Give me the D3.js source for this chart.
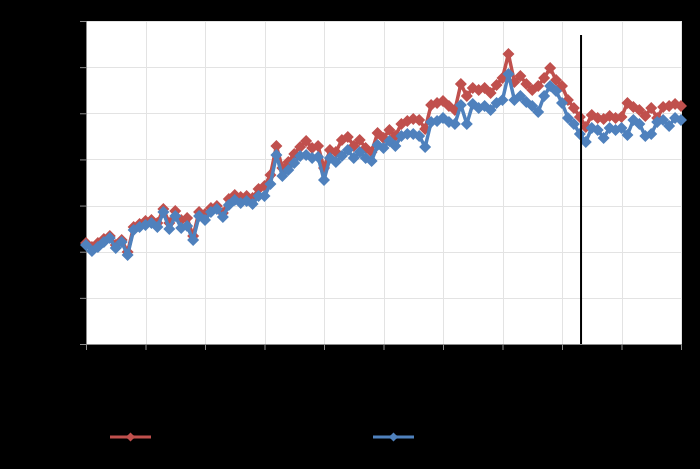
<!DOCTYPE html>
<html>
<head>
<meta charset="utf-8">
<script src="https://cdn.jsdelivr.net/npm/d3@7"></script>
<style>
  html, body { margin: 0; padding: 0; background: #000; }
  svg { display: block; }
</style>
</head>
<body>
<div class="chart"></div>
<script>
// Data, one value per period
var seriesRed = [43.8, 42.0, 43.8, 45.5, 46.8, 42.9, 45.1, 39.9, 50.7, 52.0,
  53.3, 53.7, 52.4, 58.5, 52.4, 57.6, 53.7, 54.6, 46.8, 57.2,
  56.3, 58.9, 59.8, 56.8, 62.8, 64.6, 63.7, 64.1, 63.3, 67.2,
  68.5, 73.3, 85.8, 76.3, 78.9, 82.4, 85.4, 88.0, 85.0, 85.8,
  76.3, 84.1, 83.2, 88.4, 89.7, 85.8, 88.4, 85.0, 83.2, 91.5,
  89.3, 92.8, 90.2, 95.4, 96.7, 97.5, 97.1, 93.2, 103.6, 104.5,
  105.3, 103.2, 101.4, 112.7, 107.5, 111.0, 110.1, 111.0, 108.8, 112.3,
  115.3, 125.7, 113.6, 116.2, 112.7, 110.1, 111.8, 115.3, 119.6, 114.4,
  111.8, 105.8, 102.3, 98.4, 94.1, 99.3, 98.0, 97.5, 98.8, 98.0,
  98.4, 104.5, 102.7, 101.4, 98.8, 102.3, 98.0, 102.7, 103.2, 104.0,
  103.2];
var seriesBlue = [42.9, 40.3, 42.0, 44.2, 45.9, 41.6, 44.2, 38.6, 49.4, 50.7,
  51.6, 52.4, 50.7, 57.2, 49.8, 55.5, 50.3, 51.1, 45.1, 55.5,
  53.7, 57.2, 58.5, 55.0, 60.2, 62.4, 61.1, 62.0, 60.7, 64.1,
  64.1, 69.4, 81.9, 72.8, 75.4, 78.5, 81.5, 81.9, 80.6, 81.1,
  71.1, 80.6, 78.9, 81.5, 84.1, 80.6, 83.2, 80.6, 79.3, 86.3,
  85.0, 88.0, 85.8, 90.2, 91.0, 91.0, 90.2, 85.4, 96.2, 96.7,
  98.0, 96.2, 95.4, 103.6, 95.4, 104.0, 102.3, 103.2, 101.4, 104.5,
  105.8, 117.0, 105.8, 107.5, 104.9, 103.2, 100.6, 107.5, 111.8, 109.7,
  104.5, 98.0, 95.4, 91.0, 87.6, 93.6, 92.8, 89.3, 93.6, 92.8,
  93.6, 90.6, 97.1, 95.4, 90.2, 91.0, 96.2, 97.1, 94.5, 98.0,
  97.1];
var periods = d3.range(seriesRed.length);
var xTicks = [0, 10, 20, 30, 40, 50, 60, 70, 80, 90, 100];
var yTicks = [0, 20, 40, 60, 80, 100, 120, 140];
var markerPeriod = 83.2;

// Configuration
var width = 700;
var height = 469;
var margin = {top: 21, right: 19, bottom: 125, left: 86};
var innerW = width - margin.left - margin.right;
var innerH = height - margin.top - margin.bottom;
var red = "#c0504d";
var blue = "#4f81bd";

var svg = d3.select(".chart").append("svg")
    .attr("width", width)
    .attr("height", height);

svg.append("rect")
    .attr("width", width)
    .attr("height", height)
    .attr("fill", "#000");

var g = svg.append("g")
    .attr("transform", "translate(" + margin.left + "," + margin.top + ")");

var x = d3.scaleLinear().domain([0, 100]).range([0, innerW]);
var y = d3.scaleLinear().domain([0, 140]).range([innerH, 0]);

// Plot area
g.append("rect")
    .attr("width", innerW)
    .attr("height", innerH)
    .attr("fill", "#fff");

// Grid lines
g.append("g")
    .selectAll("line.h")
    .data(yTicks)
    .enter().append("line")
    .attr("x1", 0)
    .attr("x2", innerW)
    .attr("y1", function(d) { return Math.round(y(d)) + 0.5; })
    .attr("y2", function(d) { return Math.round(y(d)) + 0.5; })
    .attr("stroke", "#e3e3e3");

g.append("g")
    .selectAll("line.v")
    .data(xTicks)
    .enter().append("line")
    .attr("y1", 0)
    .attr("y2", innerH)
    .attr("x1", function(d) { return Math.round(x(d)) + 0.5; })
    .attr("x2", function(d) { return Math.round(x(d)) + 0.5; })
    .attr("stroke", "#e3e3e3");

// Axes
var yAxis = g.append("g")
    .call(d3.axisLeft(y).tickValues(yTicks).tickSize(6).tickFormat(""));
var xAxis = g.append("g")
    .attr("transform", "translate(0," + innerH + ")")
    .call(d3.axisBottom(x).tickValues(xTicks).tickSize(6).tickFormat(""));
[yAxis, xAxis].forEach(function(a) {
  a.selectAll("path, line").attr("stroke", "#8c8c8c");
});

// Series
var line = d3.line()
    .x(function(d, i) { return x(periods[i]); })
    .y(function(d) { return y(d); });

var diamond = d3.symbol().type(d3.symbolSquare).size(72);

function drawSeries(values, color) {
  var s = g.append("g");
  s.append("path")
      .datum(values)
      .attr("fill", "none")
      .attr("stroke", color)
      .attr("stroke-width", 3.5)
      .attr("stroke-linejoin", "round")
      .attr("d", line);
  s.selectAll("path.pt")
      .data(values)
      .enter().append("path")
      .attr("class", "pt")
      .attr("fill", color)
      .attr("d", diamond)
      .attr("transform", function(d, i) {
        return "translate(" + x(periods[i]) + "," + y(d) + ") rotate(45)";
      });
}

drawSeries(seriesRed, red);
drawSeries(seriesBlue, blue);

// Vertical marker line
g.append("line")
    .attr("x1", x(markerPeriod))
    .attr("x2", x(markerPeriod))
    .attr("y1", 14)
    .attr("y2", innerH)
    .attr("stroke", "#000")
    .attr("stroke-width", 2);

// Legend
var legendItems = [
  {color: red, x: 110},
  {color: blue, x: 373}
];
var legend = svg.selectAll("g.legend")
    .data(legendItems)
    .enter().append("g")
    .attr("class", "legend")
    .attr("transform", function(d) { return "translate(" + d.x + ",437)"; });
legend.append("line")
    .attr("x1", 0)
    .attr("x2", 41)
    .attr("stroke", function(d) { return d.color; })
    .attr("stroke-width", 3);
legend.append("path")
    .attr("d", d3.symbol().type(d3.symbolSquare).size(40))
    .attr("transform", "translate(20.5,0) rotate(45)")
    .attr("fill", function(d) { return d.color; });
</script>
</body>
</html>
